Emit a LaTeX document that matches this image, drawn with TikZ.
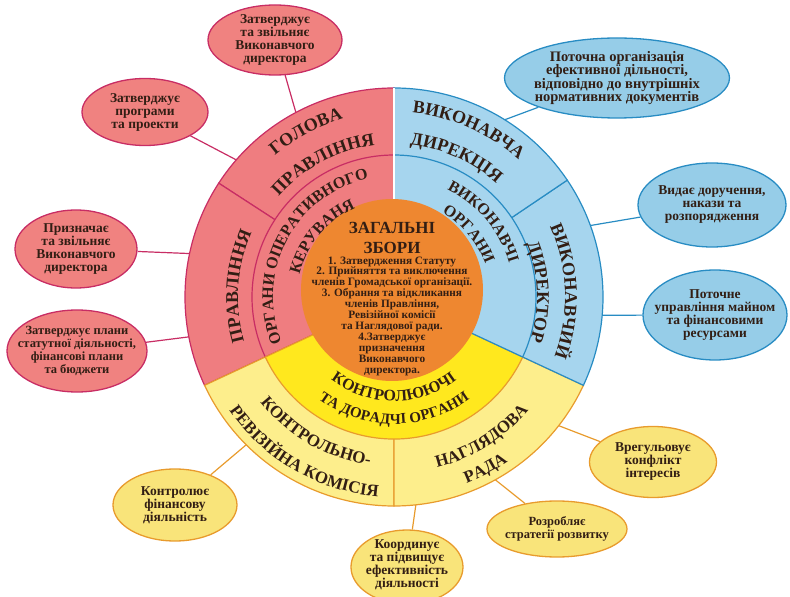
\documentclass[tikz,border=0pt]{standalone}
\usepackage{fontspec}
\setmainfont{Liberation Serif}
\usetikzlibrary{shapes.geometric, decorations.text}

\definecolor{redring}{RGB}{239,125,128}
\definecolor{redline}{RGB}{200,45,100}
\definecolor{redfill}{RGB}{240,130,128}
\definecolor{bluering}{RGB}{166,213,238}
\definecolor{blueline}{RGB}{40,140,195}
\definecolor{bluefill}{RGB}{150,205,232}
\definecolor{yelring}{RGB}{253,238,140}
\definecolor{yelmid}{RGB}{255,232,30}
\definecolor{yelline}{RGB}{232,155,45}
\definecolor{yelfill}{RGB}{249,228,122}
\definecolor{orangec}{RGB}{238,135,48}
\definecolor{txt}{RGB}{50,30,20}

% text along a ring arc: radius, start, end, size, text
\newcommand\ringtext[5]{%
  \path[decorate, decoration={text along path, text align=center, text color=txt,
    text={|\bfseries\fontsize{#4}{#4}\selectfont|#5}}]
    (#2:#1) arc[start angle=#2, end angle=#3, radius=#1];}

\begin{document}
\begin{tikzpicture}[x=1pt, y=1pt]

\tikzset{bubble/.style = {shape=ellipse, line width=1.3pt, inner sep=0pt}}
\tikzset{redbub/.style = {bubble, fill=redfill, draw=redline}}
\tikzset{bluebub/.style = {bubble, fill=bluefill, draw=blueline}}
\tikzset{yelbub/.style = {bubble, fill=yelfill, draw=yelline}}
\tikzset{bubtxt/.style = {align=center, text=txt, font=\bfseries\fontsize{13.5}{13}\selectfont}}
\tikzset{smalltxt/.style = {bubtxt, font=\bfseries\fontsize{12.5}{12.8}\selectfont}}
\tikzset{redcon/.style = {draw=redline, line width=1.2pt}}
\tikzset{bluecon/.style = {draw=blueline, line width=1.2pt}}
\tikzset{yelcon/.style = {draw=yelline, line width=1.2pt}}

\useasboundingbox (-394,-300) rectangle (396,297);

%outer ring
\filldraw[redring, draw=redline, line width=1.2pt] (0,0) -- (90:209) arc[start angle=90, end angle=147, radius=209] -- cycle;
\filldraw[redring, draw=redline, line width=1.2pt] (0,0) -- (147:209) arc[start angle=147, end angle=205, radius=209] -- cycle;
\filldraw[yelring, draw=yelline, line width=1.2pt] (0,0) -- (205:209) arc[start angle=205, end angle=270, radius=209] -- cycle;
\filldraw[yelring, draw=yelline, line width=1.2pt] (0,0) -- (270:209) arc[start angle=270, end angle=335, radius=209] -- cycle;
\filldraw[bluering, draw=blueline, line width=1.2pt] (0,0) -- (-25:209) arc[start angle=-25, end angle=34, radius=209] -- cycle;
\filldraw[bluering, draw=blueline, line width=1.2pt] (0,0) -- (34:209) arc[start angle=34, end angle=90, radius=209] -- cycle;

%middle ring
\filldraw[redring, draw=redline, line width=1.2pt] (0,0) -- (90:142) arc[start angle=90, end angle=205, radius=142] -- cycle;
\filldraw[yelmid, draw=yelline, line width=1.2pt] (0,0) -- (205:142) arc[start angle=205, end angle=335, radius=142] -- cycle;
\filldraw[bluering, draw=blueline, line width=1.2pt] (0,0) -- (-25:142) arc[start angle=-25, end angle=90, radius=142] -- cycle;
\draw[white, line width=1.5pt] (0,98) -- (0,209);

%centre
\fill[orangec] (-2,7) circle[radius=91];
\node[text=txt, align=center, font=\bfseries\fontsize{17}{20}\selectfont] (zagal) at (-2,59) {ЗАГАЛЬНІ\\ЗБОРИ};
\node[text=txt, align=center, font=\bfseries\fontsize{11.3}{10.9}\selectfont] (zlist) at (-2,-19)
  {1. Затвердження Статуту\\2. Прийняття та виключення\\членів Громадської організації.\\3. Обрання та відкликання\\членів Правління,\\Ревізійної комісії\\та Наглядової ради.\\4.Затверджує\\призначення\\Виконавчого\\директора.};

%ring labels
\ringtext{185}{160}{76}{18}{ГОЛОВА}
\ringtext{153}{160}{76}{18}{ПРАВЛІННЯ}
\ringtext{156}{232}{120}{18}{ПРАВЛІННЯ}
\ringtext{185}{108}{24}{18}{ВИКОНАВЧА}
\ringtext{153}{108}{24}{18}{ДИРЕКЦІЯ}
\ringtext{171}{60}{-56}{18}{ВИКОНАВЧИЙ}
\ringtext{143}{60}{-56}{18}{ДИРЕКТОР}
\ringtext{121}{214}{90}{16}{ОРГАНИ ОПЕРАТИВНОГО}
\ringtext{97}{190}{90}{16}{КЕРУВАНЯ}
\ringtext{120}{85}{-5}{16}{ВИКОНАВЧІ}
\ringtext{97}{85}{-5}{16}{ОРГАНИ}
\ringtext{104}{215}{325}{16}{КОНТРОЛЮЮЧІ}
\ringtext{127}{215}{325}{15}{ТА ДОРАДЧІ ОРГАНИ}
\ringtext{170}{195}{285}{17}{КОНТРОЛЬНО-}
\ringtext{200}{198}{282}{17}{РЕВІЗІЙНА КОМІСІЯ}
\ringtext{176}{262}{342}{17}{НАГЛЯДОВА}
\ringtext{200}{258}{338}{17}{РАДА}

%connector ends on the ring
\coordinate (p1) at (118:209);
\coordinate (p2) at (139:209);
\coordinate (p3) at (58:209);
\coordinate (p4) at (20:209);
\coordinate (p5) at (-5:209);
\coordinate (p6) at (168:209);
\coordinate (p7) at (191:209);
\coordinate (p8) at (225:209);
\coordinate (p9) at (276:209);
\coordinate (p10) at (299:209);
\coordinate (p11) at (322:209);

%bubbles
\node[redbub, minimum width=134, minimum height=70] (e1) at (-119,257) {};
\node[redbub, minimum width=126, minimum height=67] (e2) at (-249,185) {};
\node[bluebub, minimum width=225, minimum height=80] (e3) at (223,219) {};
\node[bluebub, minimum width=148, minimum height=84] (e4) at (318,92) {};
\node[bluebub, minimum width=144, minimum height=90] (e5) at (321,-18) {};
\node[redbub, minimum width=122, minimum height=78] (e6) at (-318,48) {};
\node[redbub, minimum width=140, minimum height=82] (e7) at (-317,-54) {};
\node[yelbub, minimum width=124, minimum height=72] (e8) at (-219,-208) {};
\node[yelbub, minimum width=112, minimum height=74] (e9) at (13,-270) {};
\node[yelbub, minimum width=140, minimum height=56] (e10) at (163,-232) {};
\node[yelbub, minimum width=127, minimum height=71] (e11) at (259,-165) {};

\path[redcon] (p1) -- (e1);
\path[redcon] (p2) -- (e2);
\path[bluecon] (p3) -- (e3);
\path[bluecon] (p4) -- (e4);
\path[bluecon] (p5) -- (e5);
\path[redcon] (p6) -- (e6);
\path[redcon] (p7) -- (e7);
\path[yelcon] (p8) -- (e8);
\path[yelcon] (p9) -- (e9);
\path[yelcon] (p10) -- (e10);
\path[yelcon] (p11) -- (e11);

\node[bubtxt] (t1) at (e1) {Затверджує\\та звільняє\\Виконавчого\\директора};
\node[bubtxt] (t2) at (e2) {Затверджує\\програми\\та проекти};
\node[bubtxt, font=\bfseries\fontsize{14.5}{13.2}\selectfont] (t3) at (e3) {Поточна організація\\ефективної дільності,\\відповідно до внутрішніх\\нормативних документів};
\node[bubtxt] (t4) at (e4) {Видає доручення,\\накази та\\розпорядження};
\node[bubtxt] (t5) at (e5) {Поточне\\управління майном\\та фінансовими\\ресурсами};
\node[bubtxt] (t6) at (e6) {Призначає\\та звільняє\\Виконавчого\\директора};
\node[smalltxt] (t7) at (e7) {Затверджує плани\\статутної діяльності,\\фінансові плани\\та бюджети};
\node[bubtxt] (t8) at (e8) {Контролює\\фінансову\\діяльність};
\node[bubtxt] (t9) at (13,-268) {Координує\\та підвищує\\ефективність\\діяльності};
\node[smalltxt] (t10) at (e10) {Розробляє\\стратегії розвитку};
\node[bubtxt] (t11) at (e11) {Врегульовує\\конфлікт\\інтересів};

\end{tikzpicture}
\end{document}
